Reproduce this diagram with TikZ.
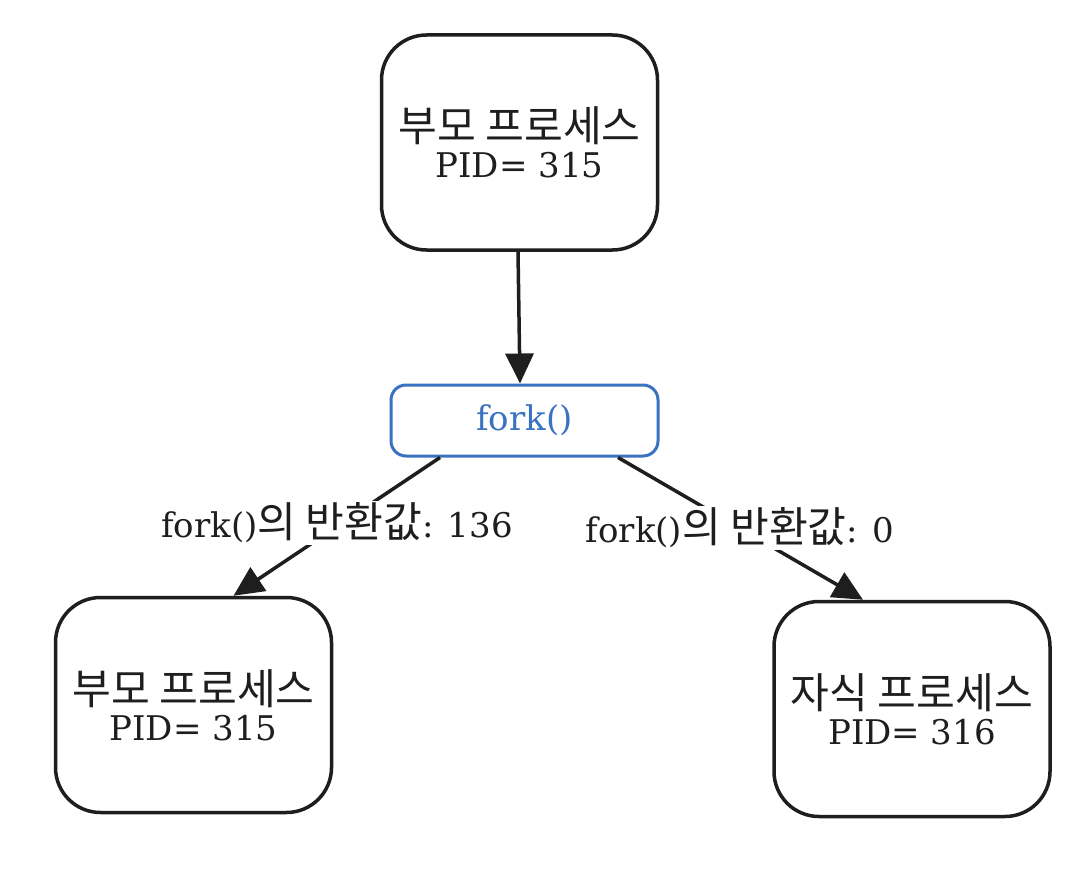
\documentclass[tikz,border=0pt]{standalone}
\usepackage{fontspec}
\setmainfont{DejaVu Serif}
\newfontfamily\kr[Scale=1.24]{Noto Sans CJK KR}
\usetikzlibrary{arrows.meta,calc}
\definecolor{ink}{HTML}{1E1E1E}
\definecolor{forkblue}{HTML}{3A72C2}
\tikzset{
  proc/.style={draw=ink, line width=3.5pt, rounded corners=45pt, minimum width=276pt,
    minimum height=215pt, inner sep=0pt, align=center, text=ink, fill=white},
  forkbox/.style={draw=forkblue, line width=3pt, rounded corners=15pt, minimum width=267pt,
    minimum height=71pt, inner sep=0pt, text=forkblue, fill=white},
  conn/.style={draw=ink, line width=3.5pt, -{Triangle[length=30pt,width=28pt]}},
  lbl/.style={fill=white, text=ink, inner sep=2pt}
}
\begin{document}
\begin{tikzpicture}[x=1pt,y=-1pt]
\fontsize{34}{36}\selectfont
\useasboundingbox (0,0) rectangle (1092,888);
\node[proc] (top) at (519.5,142.5) {{\kr 부모 프로세스}\\PID= 315};
\node[forkbox] (fork) at (524.5,420.5) {fork()};
\node[proc] (left) at (193.5,705) {{\kr 부모 프로세스}\\PID= 315};
\node[proc] (right) at (912,709) {{\kr 자식 프로세스}\\PID= 316};
\draw[conn] ([xshift=-1.5pt]top.south) -- ([xshift=-4.5pt]fork.north);
\draw[conn] ([xshift=-84.5pt]fork.south) -- ([xshift=40pt]left.north);
\draw[conn] ([xshift=93.5pt]fork.south) -- ([xshift=-49pt]right.north);
\node[lbl] (l1) at (337,523) {fork(){\kr 의 반환값}: 136};
\node[lbl] (l2) at (740,528) {fork(){\kr 의 반환값}: 0};
\end{tikzpicture}
\end{document}
